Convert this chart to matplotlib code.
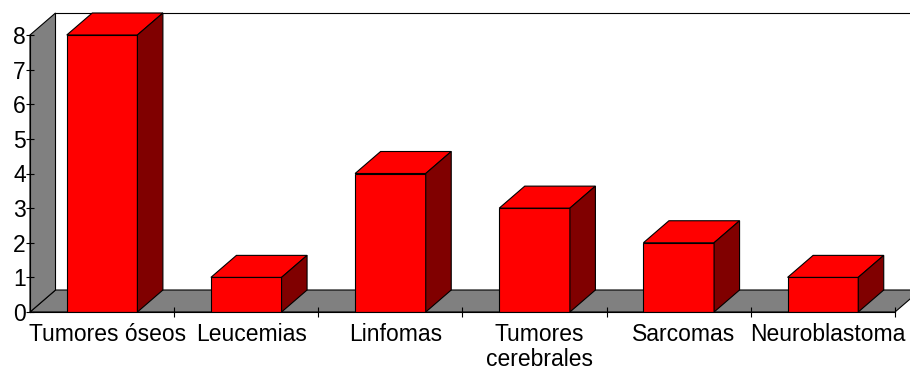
import matplotlib
matplotlib.use("Agg")
import matplotlib.pyplot as plt
import matplotlib.transforms as mtransforms
from matplotlib.patches import Polygon

# Casos por tipo de tumor
categorias = ["Tumores óseos", "Leucemias", "Linfomas", "Tumores\ncerebrales",
              "Sarcomas", "Neuroblastoma"]
casos = [8, 1, 4, 3, 2, 1]
yticks = [0, 1, 2, 3, 4, 5, 6, 7, 8]

W, H, DPI = 910, 371, 100
fig = plt.figure(figsize=(W / DPI, H / DPI), dpi=DPI)

# front plane of the 3D box, in pixels
x0, x1 = 30, 895
y0, y1 = 312, 35
ax = fig.add_axes([x0 / W, 1 - y0 / H, (x1 - x0) / W, (y0 - y1) / H])
n = len(categorias)
ax.set_xlim(-0.5, n - 0.5)
ax.set_ylim(0, 8)

# depth offset (25 px right, 22 px up) in data units
px_x = (n) / (x1 - x0)
px_y = 8 / (y0 - y1)
dx = 25.5 * px_x
dy = 22 * px_y

gray = "#808080"
lw = 0.8
xa, xb = -0.5, n - 0.5

# floor
ax.add_patch(Polygon([(xa, 0), (xb, 0), (xb + dx, dy), (xa + dx, dy)],
                     closed=True, facecolor=gray, edgecolor="black", lw=lw,
                     clip_on=False, zorder=1))
# left wall
ax.add_patch(Polygon([(xa, 0), (xa, 8), (xa + dx, 8 + dy), (xa + dx, dy)],
                     closed=True, facecolor=gray, edgecolor="black", lw=lw,
                     clip_on=False, zorder=1))
# back wall outline
ax.plot([xa + dx, xb + dx], [8 + dy, 8 + dy], color="black", lw=lw,
        clip_on=False, zorder=1)

# bars: front face, top and side
bw = 0.49
for i, v in enumerate(casos):
    l, r = i - bw / 2, i + bw / 2
    ax.bar(i, v, width=bw, color="#FF0000", edgecolor="black", lw=lw, zorder=3)
    ax.add_patch(Polygon([(l, v), (r, v), (r + dx, v + dy), (l + dx, v + dy)],
                         closed=True, facecolor="#FF0000", edgecolor="black",
                         lw=lw, clip_on=False, zorder=3))
    ax.add_patch(Polygon([(r, 0), (r, v), (r + dx, v + dy), (r + dx, dy)],
                         closed=True, facecolor="#800000", edgecolor="black",
                         lw=lw, clip_on=False, zorder=3))

for s in ["top", "right"]:
    ax.spines[s].set_visible(False)
for s in ["left", "bottom"]:
    ax.spines[s].set_linewidth(lw)
    ax.spines[s].set_zorder(4)
ax.set_facecolor("none")

font = dict(family=["Liberation Sans", "DejaVu Sans"], size=16.5)
ax.set_yticks(yticks)
ax.set_yticklabels([str(t) for t in yticks], **font)
ax.tick_params(axis="y", direction="inout", length=6, width=lw, pad=0)

ax.set_xticks(range(n))
ax.set_xticklabels(categorias, **font, linespacing=1.1)
ax.tick_params(axis="x", which="major", length=0, pad=8)
ax.set_xticks([i + 0.5 for i in range(n)], minor=True)
ax.tick_params(axis="x", which="minor", direction="inout", length=7, width=lw)

# category labels sit a few pixels right of the bar centres
shift = mtransforms.ScaledTranslation(5 / DPI, 0, fig.dpi_scale_trans)
for lab in ax.get_xticklabels():
    lab.set_transform(lab.get_transform() + shift)

fig.savefig("out.png", dpi=DPI)
